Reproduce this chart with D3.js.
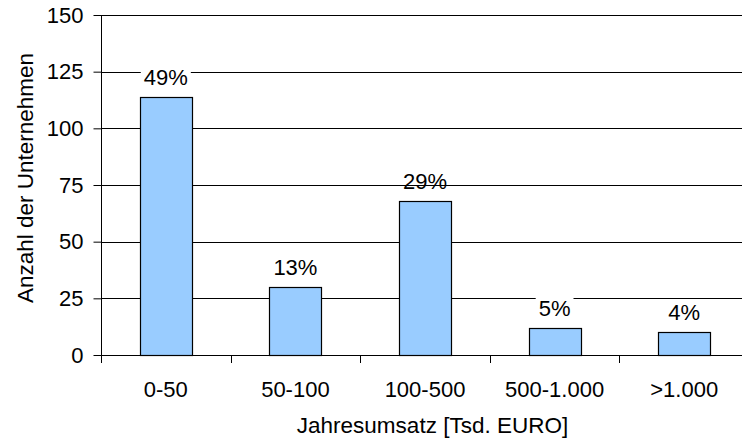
<!DOCTYPE html>
<html>
<head>
<meta charset="utf-8">
<script src="https://cdn.jsdelivr.net/npm/d3@7"></script>
<style>
  html, body { margin: 0; padding: 0; background: #fff; }
  svg { display: block; font-family: "Liberation Sans", Arial, sans-serif; }
</style>
</head>
<body>
<svg id="chart" width="742" height="438"></svg>
<script>
// Umsatzklassen (Tsd. EURO) und Anzahl der Unternehmen je Klasse
const categories = ["0-50", "50-100", "100-500", "500-1.000", ">1.000"];
const counts = [114, 30, 68, 12, 10];
const yTicks = [0, 25, 50, 75, 100, 125, 150];

const svg = d3.select("#chart");
const margin = { left: 101, top: 15, right: -7, bottom: 83 };
const W = 742, H = 438;
const FS = 22;

const x = d3.scaleBand()
  .domain(categories)
  .range([margin.left, W - margin.right])
  .paddingInner(0.6)
  .paddingOuter(0.3);

const y = d3.scaleLinear()
  .domain([0, 150])
  .range([H - margin.bottom, margin.top]);

const total = d3.sum(counts);
const pct = counts.map(v => Math.round(v / total * 100) + "%");

// horizontal gridlines
svg.append("g")
  .selectAll("line")
  .data(yTicks.filter(t => t > 0))
  .join("line")
  .attr("x1", margin.left).attr("x2", W)
  .attr("y1", d => Math.round(y(d)) + 0.5).attr("y2", d => Math.round(y(d)) + 0.5)
  .attr("stroke", "#000").attr("stroke-width", 1);

// y axis
const yAxis = svg.append("g")
  .attr("transform", `translate(${margin.left + 0.5},0)`)
  .call(d3.axisLeft(y).tickValues(yTicks).tickSize(8).tickPadding(10).tickSizeOuter(0));
yAxis.select(".domain").remove();
yAxis.append("line")
  .attr("x1", 0).attr("x2", 0)
  .attr("y1", y(150)).attr("y2", y(0) + 8)
  .attr("stroke", "#000");
yAxis.selectAll(".tick line").attr("stroke", "#000");
yAxis.selectAll("text")
  .attr("font-size", FS).attr("fill", "#000")
  .attr("font-family", "Liberation Sans, Arial, sans-serif");

// x axis: baseline with tick marks between the categories
const xg = svg.append("g");
xg.append("line")
  .attr("x1", margin.left).attr("x2", W)
  .attr("y1", Math.round(y(0)) + 0.5).attr("y2", Math.round(y(0)) + 0.5)
  .attr("stroke", "#000");
const step = x.step();
xg.selectAll("line.tk")
  .data(categories.slice(1))
  .join("line")
  .attr("class", "tk")
  .attr("x1", d => Math.round(x(d) - x.paddingInner() * step / 2) + 0.5)
  .attr("x2", d => Math.round(x(d) - x.paddingInner() * step / 2) + 0.5)
  .attr("y1", y(0)).attr("y2", y(0) + 8)
  .attr("stroke", "#000");
xg.selectAll("text")
  .data(categories)
  .join("text")
  .attr("x", d => x(d) + x.bandwidth() / 2)
  .attr("y", 397)
  .attr("text-anchor", "middle")
  .attr("font-size", FS)
  .text(d => d);

// bars
svg.append("g")
  .selectAll("rect")
  .data(categories)
  .join("rect")
  .attr("x", d => Math.round(x(d)) + 0.5)
  .attr("y", (d, i) => Math.round(y(counts[i])) + 0.5)
  .attr("width", Math.round(x.bandwidth()))
  .attr("height", (d, i) => Math.round(y(0)) - Math.round(y(counts[i])))
  .attr("fill", "#99CCFF")
  .attr("stroke", "#000")
  .attr("stroke-width", 1.2);

// percentage labels with white backing
const lab = svg.append("g")
  .selectAll("g")
  .data(categories)
  .join("g")
  .attr("transform", (d, i) => `translate(${x(d) + x.bandwidth() / 2},${y(counts[i]) - 12})`);
lab.append("text")
  .attr("text-anchor", "middle")
  .attr("font-size", FS)
  .text((d, i) => pct[i]);
lab.each(function () {
  const g = d3.select(this);
  const bb = g.select("text").node().getBBox();
  g.insert("rect", "text")
    .attr("x", bb.x - 3).attr("y", bb.y + 2)
    .attr("width", bb.width + 6).attr("height", bb.height - 11)
    .attr("fill", "#fff");
});

// axis titles
svg.append("text")
  .attr("x", 432.5)
  .attr("y", 433)
  .attr("text-anchor", "middle")
  .attr("font-size", 22.5)
  .text("Jahresumsatz [Tsd. EURO]");

svg.append("text")
  .attr("transform", "translate(33,178) rotate(-90)")
  .attr("text-anchor", "middle")
  .attr("font-size", 22.5)
  .text("Anzahl der Unternehmen");
</script>
</body>
</html>
